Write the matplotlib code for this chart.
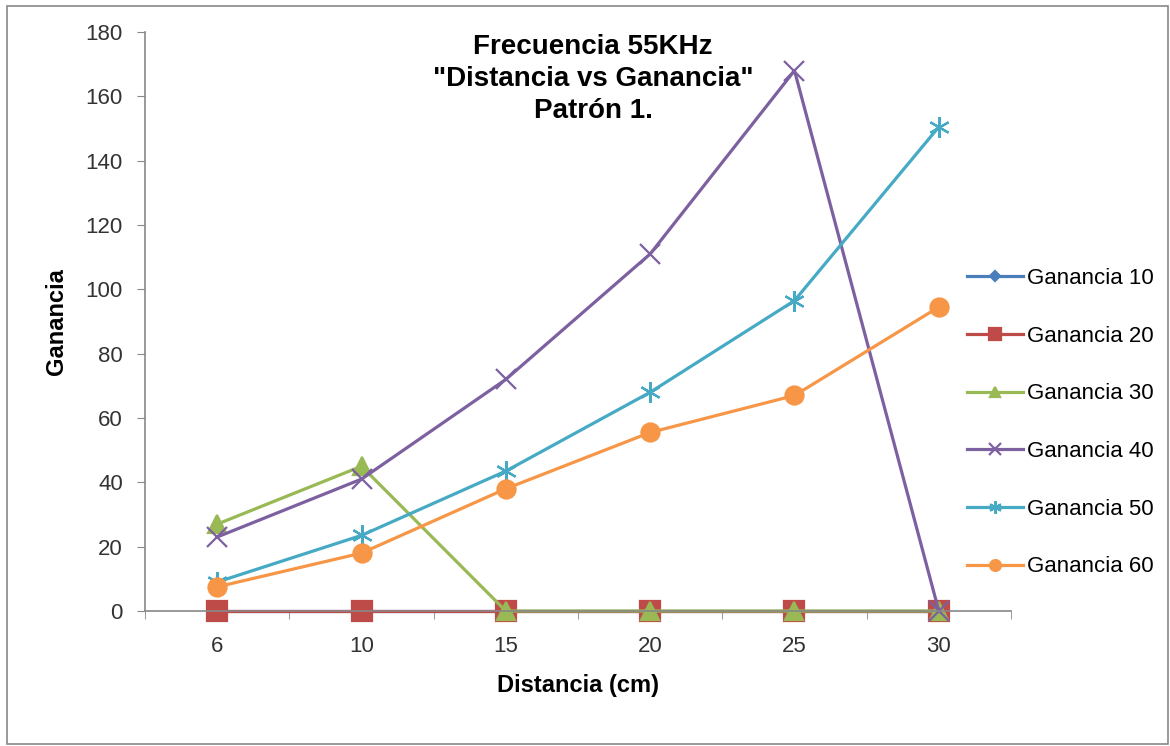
import matplotlib
matplotlib.use("Agg")
import matplotlib.pyplot as plt
from matplotlib.patches import Rectangle

# Data
distancias = ["6", "10", "15", "20", "25", "30"]
ganancia_10 = [0, 0, 0, 0, 0, 0]
ganancia_20 = [0, 0, 0, 0, 0, 0]
ganancia_30 = [27, 45, 0, 0, 0, 0]
ganancia_40 = [23, 41, 72, 111, 168, 0]
ganancia_50 = [9, 23.5, 43.5, 68, 96.5, 150.5]
ganancia_60 = [7.5, 18, 38, 55.5, 67, 94.5]

plt.rcParams["font.family"] = ["Liberation Sans", "DejaVu Sans"]

fig = plt.figure(figsize=(11.7, 7.46), dpi=100)
ax = fig.add_axes([145 / 1170, 1 - 611 / 746, (1011 - 145) / 1170, (611 - 32) / 746])

series = [
    ("Ganancia 10", ganancia_10, "#4A7EBB", "D", 9),
    ("Ganancia 20", ganancia_20, "#BE4B48", "s", 14),
    ("Ganancia 30", ganancia_30, "#98B954", "^", 13),
    ("Ganancia 40", ganancia_40, "#7D60A0", "x", 14),
    ("Ganancia 50", ganancia_50, "#46AAC5", (6, 2, 0), 15),
    ("Ganancia 60", ganancia_60, "#F79646", "o", 13),
]

x = range(len(distancias))
for name, vals, col, mk, ms in series:
    ax.plot(x, vals, color=col, lw=2.3, marker=mk, markersize=ms,
            markeredgewidth=1.6, markeredgecolor=col, label=name, clip_on=False)

ax.set_xlim(-0.5, len(distancias) - 0.5)
ax.set_ylim(0, 180)
ax.set_yticks(range(0, 181, 20))
ax.set_xticks(list(x))
ax.set_xticklabels(distancias)
ax.set_xticks([i + 0.5 for i in range(-1, len(distancias))], minor=True)
ax.tick_params(axis="x", which="major", length=0, labelsize=16, pad=18, colors="#333333")
ax.tick_params(axis="x", which="minor", length=6, color="#888888", direction="out")
ax.tick_params(axis="y", length=6, color="#888888", labelsize=16, pad=10, labelcolor="#333333")
for s in ["top", "right"]:
    ax.spines[s].set_visible(False)
for s in ["left", "bottom"]:
    ax.spines[s].set_color("#888888")
    ax.spines[s].set_linewidth(1.2)

ax.set_xlabel("Distancia (cm)", fontsize=17, fontweight="bold", labelpad=12)
ax.set_ylabel("Ganancia", fontsize=17, fontweight="bold")
ax.yaxis.set_label_coords(-0.089, 0.5)

fig.text(593 / 1170, 1 - 79 / 746, "Frecuencia 55KHz\n\"Distancia vs Ganancia\"\nPatrón 1.",
         ha="center", va="center", fontsize=20, fontweight="bold", linespacing=1.3)

leg = fig.legend(loc="upper left", bbox_to_anchor=(947 / 1170, 1 - 248 / 746),
                 frameon=False, fontsize=16, handlelength=2.5, handletextpad=0.2,
                 labelspacing=1.65, markerscale=0.6)

fig.add_artist(Rectangle((7 / 1170, 2 / 746), 1161 / 1170, 738 / 746,
                         transform=fig.transFigure, fill=False,
                         edgecolor="#888888", lw=1.2))

fig.savefig("out.png", dpi=100)
